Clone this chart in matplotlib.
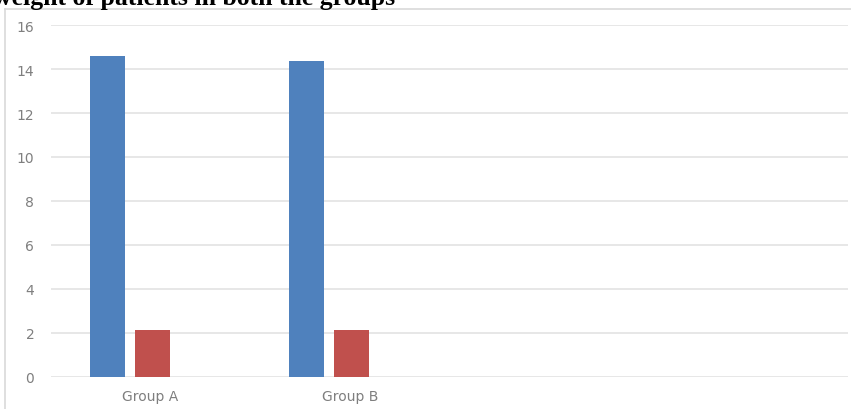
import numpy as np
import matplotlib.pyplot as plt
from matplotlib.lines import Line2D

# data
categories = ["Group A", "Group B", "", ""]
series_1 = [14.6, 14.35]
series_2 = [2.15, 2.15]
y_ticks = [0, 2, 4, 6, 8, 10, 12, 14, 16]

W, H = 851, 410
fig = plt.figure(figsize=(W / 100, H / 100), dpi=100)

# outer chart frame (left and top edges only visible)
fig.add_artist(Line2D([4.5 / W, 4.5 / W], [0, 1 - 10 / H], color="#d9d9d9", lw=1.2))
fig.add_artist(Line2D([4.5 / W, 1], [1 - 10 / H, 1 - 10 / H], color="#d9d9d9", lw=1.2))

# title, cut off at the top as in the source
fig.text(-7 / W, 1 - 4.7 / H, "weight of patients in both the groups",
         family="Liberation Serif", weight="bold", fontsize=18.5,
         va="baseline", ha="left", color="black")

ax = fig.add_axes([51 / W, 32 / H, 797 / W, 352 / H])
x = np.arange(len(categories))
bw = 0.174
step = 0.225
ax.bar(x[:len(series_1)] - step + 0.008, series_1, width=bw, color="#4f81bd", zorder=3)
ax.bar(x[:len(series_2)] + 0.008, series_2, width=bw, color="#c0504d", zorder=3)

ax.set_xlim(-0.5, len(categories) - 0.5)
ax.set_ylim(0, 16)
ax.set_yticks(y_ticks)
ax.set_xticks(x)
ax.set_xticklabels(categories)
ax.grid(axis="y", color="#e3e3e3", lw=1.2, zorder=0)
for s in ax.spines.values():
    s.set_visible(False)
ax.tick_params(axis="both", length=0, labelcolor="#7f7f7f", labelsize=10)
ax.tick_params(axis="y", pad=12)
ax.tick_params(axis="x", pad=9)

fig.savefig("out.png", dpi=100)
